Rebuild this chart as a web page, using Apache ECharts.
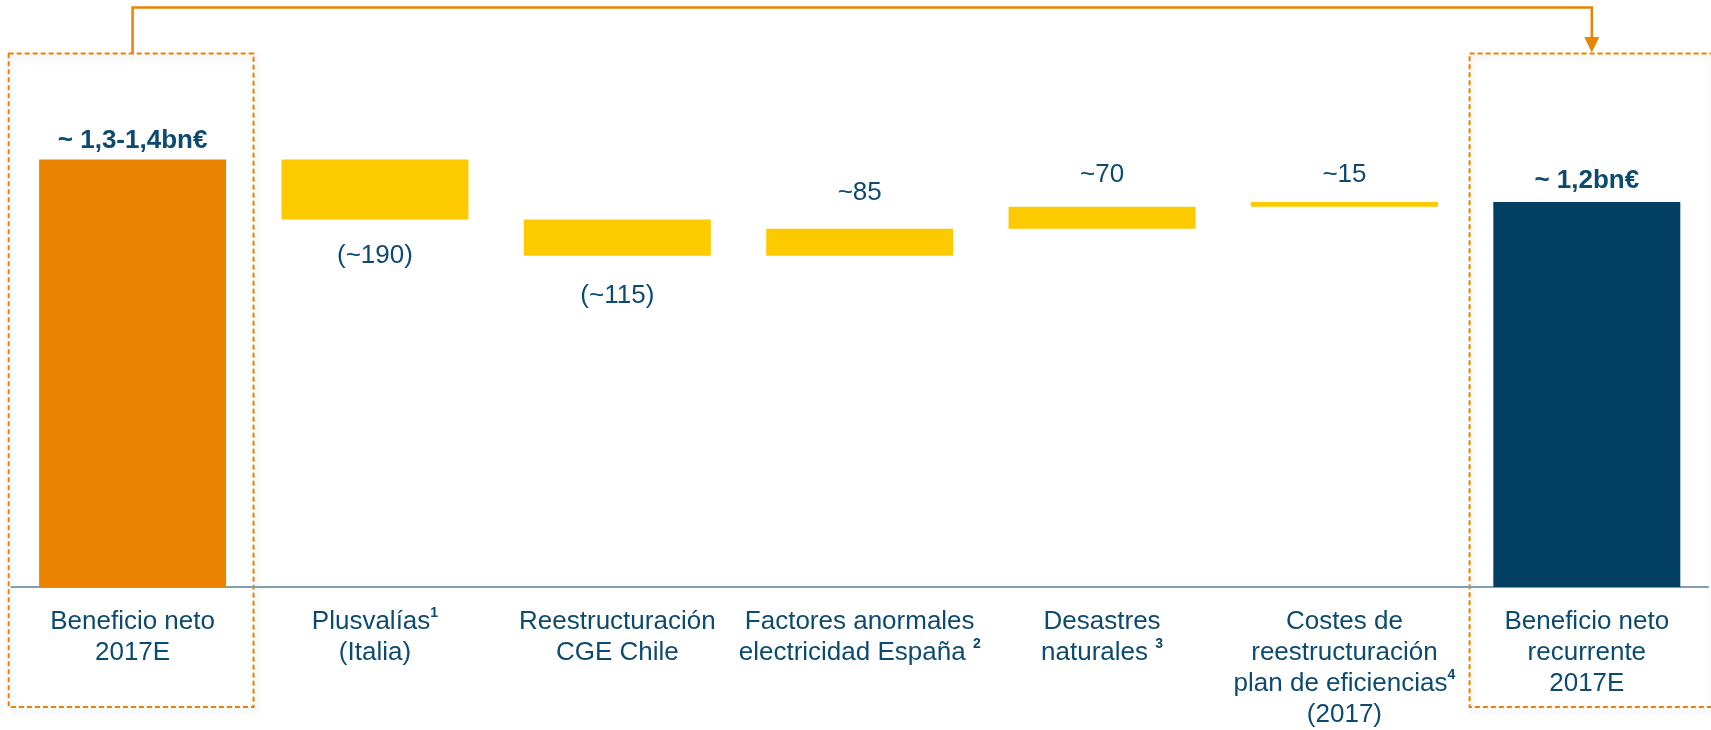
<!DOCTYPE html>
<html>
<head>
<meta charset="utf-8">
<script src="https://cdn.jsdelivr.net/npm/echarts@6/dist/echarts.min.js"></script>
<style>
html,body{margin:0;padding:0;background:#fff;}
#c{width:1711px;height:730px;}
</style>
</head>
<body>
<div id="c"></div>
<script>
// ---- data ----
const categories = [
  'Beneficio neto\n2017E',
  'Plusvalías{sup|1}\n(Italia)',
  'Reestructuración\nCGE Chile',
  'Factores anormales\nelectricidad España {sup|2}',
  'Desastres\nnaturales {sup|3}',
  'Costes de\nreestructuración\nplan de eficiencias{sup|4}\n(2017)',
  'Beneficio neto\nrecurrente\n2017E'
];
const startValue = 1355;
const deltas = [-190, -115, 85, 70, 15];
const endValue = 1220;
const valueLabels = ['~ 1,3-1,4bn€', '(~190)', '(~115)', '~85', '~70', '~15', '~ 1,2bn€'];

// ---- build waterfall ----
const baseData = [0];
const barData = [startValue];
let running = startValue;
deltas.forEach(d => {
  if (d < 0) { baseData.push(running + d); barData.push(-d); }
  else { baseData.push(running); barData.push(d); }
  running += d;
});
baseData.push(0);
barData.push(endValue);

// ---- styles ----
const ORANGE = '#E98300', YELLOW = '#FDCA00', DARK = '#023F62', TEXT = '#0D4A70', AXIS = '#7F9FB5';
const barColors = [ORANGE, YELLOW, YELLOW, YELLOW, YELLOW, YELLOW, DARK];
const labelPos = ['top', 'bottom', 'bottom', 'top', 'top', 'top', 'top'];
const labelDist = [4, 21, 25, 21, 17, 12, 6];
const labelBold = [true, false, false, false, false, false, true];
const FONT = '"Liberation Sans", Arial, Helvetica, sans-serif';

const chart = echarts.init(document.getElementById('c'), null, {renderer: 'canvas'});

const option = {
  animation: false,
  backgroundColor: '#fff',
  grid: {left: 11.4, right: 3, top: 19, bottom: 138.5, containLabel: false},
  xAxis: {
    type: 'category',
    data: categories,
    axisTick: {show: false},
    axisLine: {show: true, lineStyle: {color: AXIS, width: 2}},
    axisLabel: {
      interval: 0,
      margin: 19,
      color: TEXT,
      fontFamily: FONT,
      fontSize: 26,
      lineHeight: 31,
      rich: {
        sup: {fontSize: 14, fontWeight: 'bold', color: TEXT, fontFamily: FONT, verticalAlign: 'top', lineHeight: 16}
      }
    }
  },
  yAxis: {
    type: 'value', min: 0, max: 1800, show: false,
    splitLine: {show: false}
  },
  series: [
    {
      type: 'bar', stack: 'w', data: baseData, barWidth: 187,
      itemStyle: {color: 'transparent'}, silent: true
    },
    {
      type: 'bar', stack: 'w', barWidth: 187,
      data: barData.map((v, i) => ({
        value: v,
        itemStyle: {color: barColors[i]},
        label: {
          show: true,
          position: labelPos[i],
          distance: labelDist[i],
          formatter: valueLabels[i],
          color: TEXT,
          fontFamily: FONT,
          fontSize: 26,
          lineHeight: 30,
          fontWeight: labelBold[i] ? 'bold' : 'normal'
        }
      }))
    }
  ]
};
chart.setOption(option);

// ---- decorations (anchored to axis positions) ----
const c0 = chart.convertToPixel({xAxisIndex: 0}, 0);
const c1 = chart.convertToPixel({xAxisIndex: 0}, 1);
const c6 = chart.convertToPixel({xAxisIndex: 0}, 6);
const band = c1 - c0;
const boxTop = 53.5, boxBottom = 707, lineY = 7.5;
const b0x = c0 - band / 2 - 2.7, b0w = band + 2.5;
const b6x = c6 - band / 2 + 4, b6w = band;
const a0 = c0;
const a6 = c6 + 5;
const dashStyle = {stroke: ORANGE, lineWidth: 2, fill: null, lineDash: [5, 3],
  shadowBlur: 6, shadowColor: 'rgba(0,0,0,0.18)', shadowOffsetX: 2, shadowOffsetY: 3};
chart.setOption({
  graphic: [
    {type: 'rect', z: 0, silent: true, shape: {x: b0x, y: boxTop, width: b0w, height: boxBottom - boxTop}, style: dashStyle},
    {type: 'rect', z: 0, silent: true, shape: {x: b6x, y: boxTop, width: b6w, height: boxBottom - boxTop}, style: dashStyle},
    {type: 'polyline', z: 5, silent: true,
      shape: {points: [[a0, boxTop], [a0, lineY], [a6, lineY], [a6, 38]]},
      style: {stroke: ORANGE, lineWidth: 2.5, fill: null}},
    {type: 'polygon', z: 5, silent: true,
      shape: {points: [[a6 - 7.5, 37], [a6 + 7.5, 37], [a6, 52.5]]},
      style: {fill: ORANGE}}
  ]
});
</script>
</body>
</html>
